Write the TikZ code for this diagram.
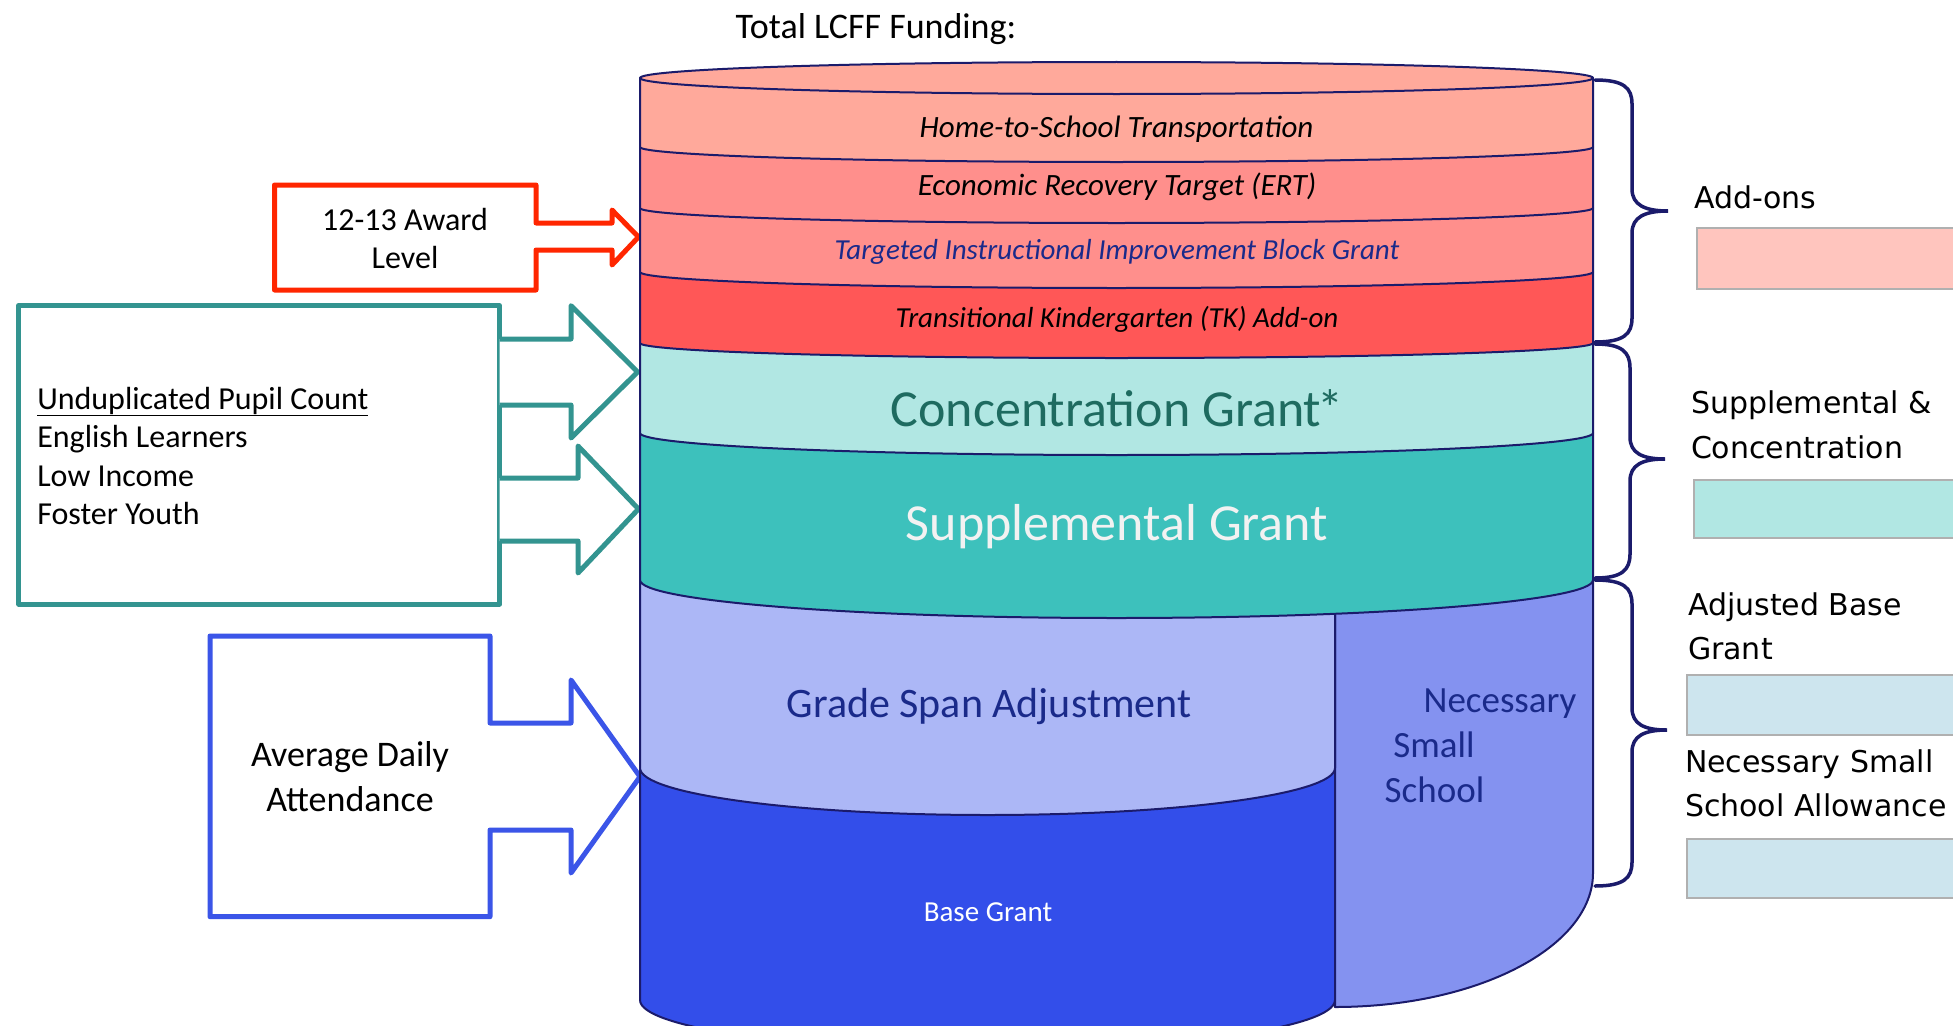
\documentclass[tikz,border=0pt]{standalone}
\usepackage{fontspec}
\setmainfont{Carlito}
\newfontfamily\labfont{DejaVu Sans}
\definecolor{htsc}{HTML}{FFA99B}
\definecolor{ertc}{HTML}{FF8F8C}
\definecolor{tkc}{HTML}{FF5757}
\definecolor{concc}{HTML}{B1E7E3}
\definecolor{suppc}{HTML}{3DC1BC}
\definecolor{gsac}{HTML}{ACB7F6}
\definecolor{nssc}{HTML}{8492F0}
\definecolor{basec}{HTML}{334EEA}
\definecolor{outl}{HTML}{1B1B6B}
\definecolor{navyt}{HTML}{1A2A8A}
\definecolor{conct}{HTML}{1E6B60}
\definecolor{redl}{HTML}{FF2600}
\definecolor{teall}{HTML}{339490}
\definecolor{bluel}{HTML}{3B55E8}
\definecolor{addbox}{HTML}{FFC5BE}
\definecolor{lbbox}{HTML}{CDE5EE}
\definecolor{boxborder}{HTML}{B0B0B0}
\tikzset{
  txt/.style={inner sep=0pt, outer sep=0pt},
  bandtxt/.style={txt, anchor=base, font=\itshape\fontsize{31}{37}\selectfont},
  bandtxts/.style={txt, anchor=base, font=\itshape\fontsize{29}{35}\selectfont},
  bigtxt/.style={txt, anchor=base, font=\fontsize{52}{60}\selectfont},
  midtxt/.style={txt, anchor=base, font=\fontsize{42}{50}\selectfont},
  nsstxt/.style={txt, anchor=base, font=\fontsize{37}{44}\selectfont, text=navyt},
  lefttxt/.style={txt, font=\fontsize{32}{38}\selectfont},
  labtxt/.style={txt, anchor=base west, font=\labfont\fontsize{30}{44}\selectfont},
  cyl/.style={draw=outl, line width=2pt, line join=round},
  blockarrow/.style={line width=5pt, line join=round, fill=white},
  brace/.style={draw=outl, line width=3.5pt, line cap=round},
  keybox/.style={draw=boxborder, line width=2pt}
}
\begin{document}
\begin{tikzpicture}[x=1pt,y=-1pt]
\useasboundingbox (0,0) rectangle (1953,1025);
\clip (0,0) rectangle (1953,1025);
\fill[white] (0,0) rectangle (1953,1025);

% title
\node[txt, anchor=base, font=\fontsize{36}{42}\selectfont] (title) at (876,38.6) {Total LCFF Funding:};

% block arrows
\draw[blockarrow, draw=redl] (274.5,185) -- (536,185) -- (536,223) -- (612,223) -- (612,210) -- (638.5,237) -- (612,265) -- (612,250) -- (536,250) -- (536,290) -- (274.5,290) -- cycle;
\draw[blockarrow, draw=teall] (18.7,305.7) rectangle (499.6,604);
\draw[blockarrow, draw=teall] (499.6,339) -- (571,339) -- (571,305.7) -- (637.6,372) -- (571,438) -- (571,405) -- (499.6,405);
\draw[blockarrow, draw=teall] (499.6,478) -- (578,478) -- (578,446) -- (638.5,509) -- (578,573) -- (578,541) -- (499.6,541);
\draw[blockarrow, draw=bluel] (210,636) -- (490,636) -- (490,723) -- (571,723) -- (571,680) -- (640,776.7) -- (571,873) -- (571,830) -- (490,830) -- (490,916.7) -- (210,916.7) -- cycle;

\node[lefttxt, anchor=base] (award1) at (405,230) {12-13 Award};
\node[lefttxt, anchor=base] (award2) at (405,268) {Level};
\node[lefttxt, anchor=base west] (upc1) at (37.3,409) {\underline{Unduplicated Pupil Count}};
\node[lefttxt, anchor=base west] (upc2) at (37.3,447.5) {English Learners};
\node[lefttxt, anchor=base west] (upc3) at (37.3,486) {Low Income};
\node[lefttxt, anchor=base west] (upc4) at (37.3,524) {Foster Youth};
\node[lefttxt, anchor=base, font=\fontsize{36}{43}\selectfont] (ada1) at (350,766.7) {Average Daily};
\node[lefttxt, anchor=base, font=\fontsize{36}{43}\selectfont] (ada2) at (350,811.7) {Attendance};

% cylinder, bottom first
\path[cyl, fill=basec] (640,768) -- (640,1000) .. controls (640,1027.6) and (795.6,1050) .. (987.5,1050) .. controls (1179.4,1050) and (1335,1027.6) .. (1335,1000) -- (1335,768) -- cycle;
\path[cyl, fill=nssc] (1335,580) -- (1335,1007) .. controls (1477.5,1007) and (1593,947) .. (1593,873) -- (1593,580) -- cycle;
\path[cyl, fill=gsac] (640,580) -- (640,768) .. controls (640,794) and (795.6,815) .. (987.5,815) .. controls (1179.4,815) and (1335,794) .. (1335,768) -- (1335,580) -- cycle;
\path[cyl, fill=suppc] (640,433) -- (640,580) .. controls (640,601) and (853.3,618) .. (1116.5,618) .. controls (1379.7,618) and (1593,601) .. (1593,580) -- (1593,433) -- cycle;
\path[cyl, fill=concc] (640,343) -- (640,433) .. controls (640,445.2) and (853.3,455) .. (1116.5,455) .. controls (1379.7,455) and (1593,445.2) .. (1593,433) -- (1593,343) -- cycle;
\path[cyl, fill=tkc] (640,272) -- (640,343) .. controls (640,351.3) and (853.3,358) .. (1116.5,358) .. controls (1379.7,358) and (1593,351.3) .. (1593,343) -- (1593,272) -- cycle;
\path[cyl, fill=ertc] (640,208) -- (640,272) .. controls (640,280.8) and (853.3,288) .. (1116.5,288) .. controls (1379.7,288) and (1593,280.8) .. (1593,272) -- (1593,208) -- cycle;
\path[cyl, fill=ertc] (640,147) -- (640,208) .. controls (640,216.3) and (853.3,223) .. (1116.5,223) .. controls (1379.7,223) and (1593,216.3) .. (1593,208) -- (1593,147) -- cycle;
\path[cyl, fill=htsc] (640,78) -- (640,147) .. controls (640,155.3) and (853.3,162) .. (1116.5,162) .. controls (1379.7,162) and (1593,155.3) .. (1593,147) -- (1593,78) -- cycle;
\path[cyl, fill=htsc] (1116.5,78) ellipse [x radius=476.5, y radius=16];

% band labels
\node[bandtxt] (hts) at (1116.5,137) {Home-to-School Transportation};
\node[bandtxt] (ert) at (1117,195) {Economic Recovery Target (ERT)};
\node[bandtxts, text=navyt] (tiibg) at (1117,259.3) {Targeted Instructional Improvement Block Grant};
\node[bandtxts] (tk) at (1117,327.3) {Transitional Kindergarten (TK) Add-on};
\node[bigtxt, text=conct] (conc) at (1117,426.7) {Concentration Grant\kern-4pt*};
\node[bigtxt, text=white!95!black] (supp) at (1117,540) {Supplemental Grant};
\node[midtxt, text=navyt] (gsa) at (989,717) {Grade Span Adjustment};
\node[nsstxt] (nss1) at (1500,712.7) {Necessary};
\node[nsstxt] (nss2) at (1434,757) {Small};
\node[nsstxt] (nss3) at (1434.5,802) {School};
\node[txt, anchor=base, font=\fontsize{29}{35}\selectfont, text=white] (base) at (988,921) {Base Grant};

% braces
\draw[brace] (1595,80) .. controls (1624,80) and (1632,88) .. (1632,104) -- (1632,189) .. controls (1632,205) and (1645,211) .. (1668,211) .. controls (1645,211) and (1632,217) .. (1632,233) -- (1632,318) .. controls (1632,334) and (1624,342) .. (1595,342);
\draw[brace] (1595,344) .. controls (1622,344) and (1630,352) .. (1630,368) -- (1630,437) .. controls (1630,453) and (1642,459) .. (1665,459) .. controls (1642,459) and (1630,465) .. (1630,481) -- (1630,554) .. controls (1630,570) and (1622,578) .. (1595,578);
\draw[brace] (1595,580) .. controls (1624,580) and (1632,588) .. (1632,604) -- (1632,708) .. controls (1632,724) and (1644,730) .. (1667,730) .. controls (1644,730) and (1632,736) .. (1632,752) -- (1632,862) .. controls (1632,878) and (1624,886) .. (1595,886);

% key
\node[labtxt] (kadd) at (1694,208) {Add-ons};
\draw[keybox, fill=addbox] (1697,228) rectangle (1965,289);
\node[labtxt] (ksc1) at (1691,413) {Supplemental \&};
\node[labtxt] (ksc2) at (1691,458) {Concentration};
\draw[keybox, fill=concc] (1694,479.5) rectangle (1965,537.5);
\node[labtxt] (kab1) at (1688,615) {Adjusted Base};
\node[labtxt] (kab2) at (1688,659) {Grant};
\draw[keybox, fill=lbbox] (1687,675) rectangle (1965,735);
\node[labtxt] (kns1) at (1685,772) {Necessary Small};
\node[labtxt] (kns2) at (1685,816) {School Allowance};
\draw[keybox, fill=lbbox] (1687,838.5) rectangle (1965,897.5);
\end{tikzpicture}
\end{document}
